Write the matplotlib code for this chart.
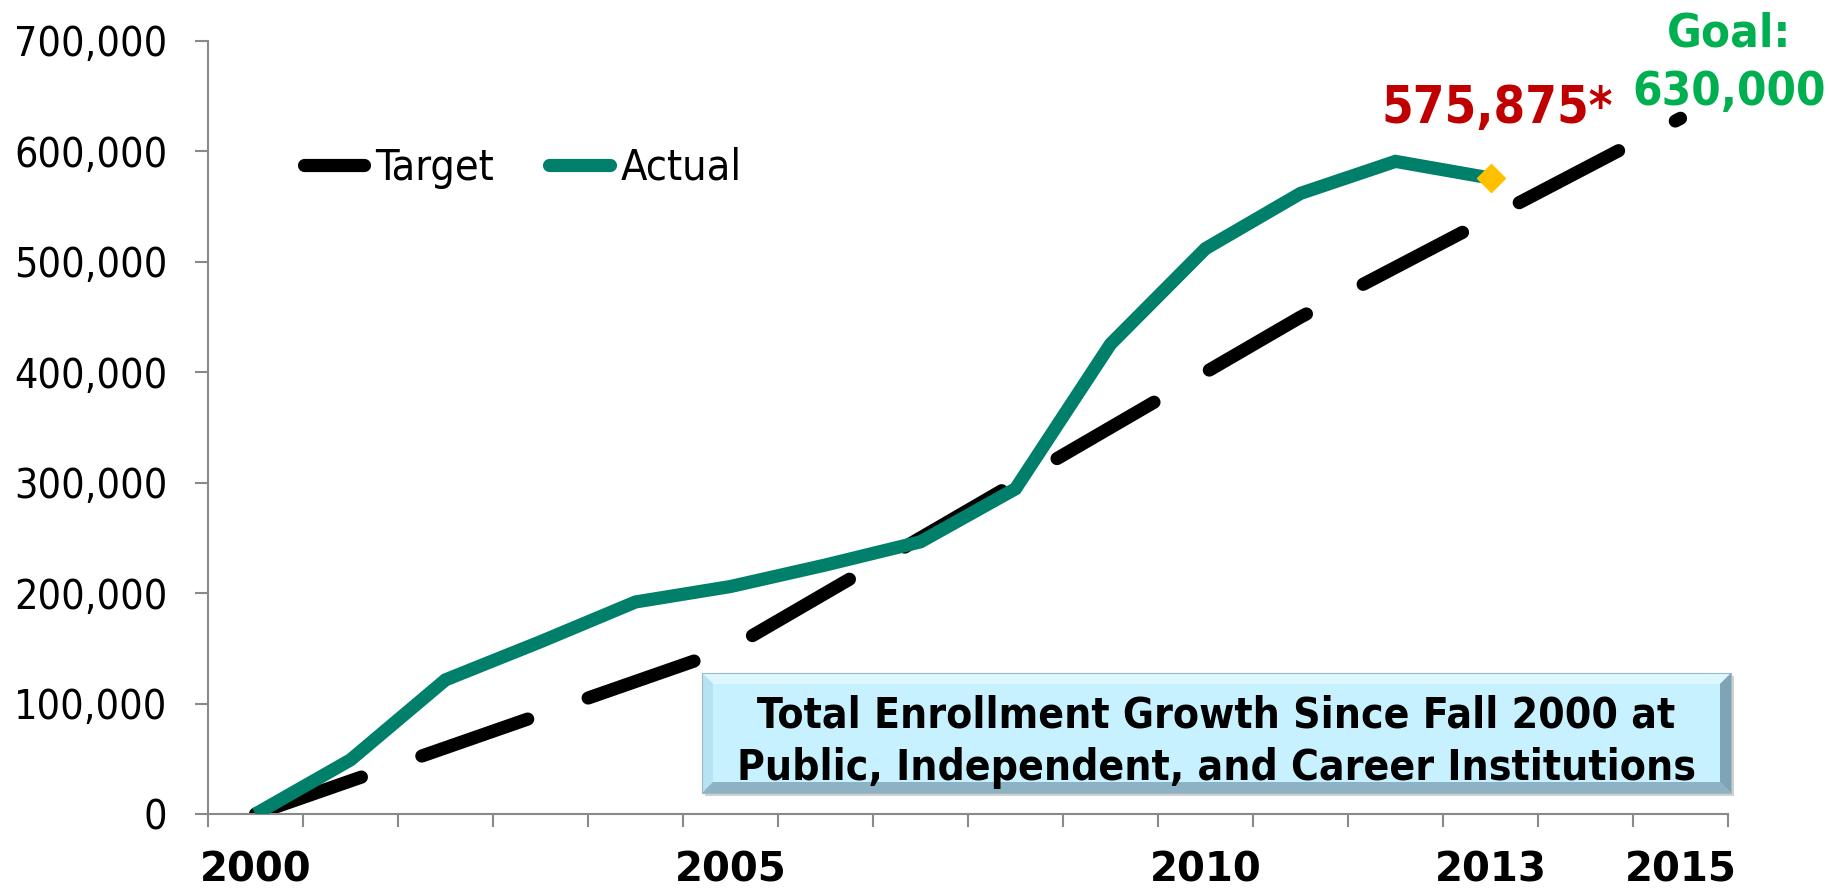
import matplotlib
matplotlib.use("Agg")
import matplotlib.pyplot as plt
from matplotlib import font_manager as fm
from matplotlib.lines import Line2D
from matplotlib.patches import Polygon, Rectangle
import numpy as np

# ---------------- data ----------------
years = list(range(2000, 2016))
target = [0, 30000, 60000, 90000, 120000, 150000, 200000, 250000, 300000,
          350000, 400000, 450000, 495000, 540000, 585000, 630000]
actual_years = list(range(2000, 2014))
actual = [0, 49000, 121500, 156000, 192000, 206000, 225500, 246500, 294500,
          425500, 512000, 562000, 591000, 575875]
xlabel_years = [2000, 2005, 2010, 2013, 2015]
yticks = [0, 100000, 200000, 300000, 400000, 500000, 600000, 700000]
series_names = ["Target", "Actual"]
latest_label = "575,875*"
goal_label_1 = "Goal:"
goal_label_2 = "630,000"
box_text = ("Total Enrollment Growth Since Fall 2000 at\n"
            "Public, Independent, and Career Institutions")

# ---------------- font choice ----------------
FAM = "DejaVu Sans"
STRETCH = "normal"
for f in fm.fontManager.ttflist:
    if f.name == "DejaVu Sans" and f.stretch == "condensed":
        STRETCH = "condensed"
        break
plt.rcParams["font.family"] = [FAM]
plt.rcParams["font.stretch"] = STRETCH

TEAL = "#00806A"
RED = "#C00000"
GREEN = "#00B050"
GOLD = "#FFC000"
AXC = "#898989"

W, H = 1830, 891
fig = plt.figure(figsize=(W / 100, H / 100), dpi=100)
ax_l, ax_r, ax_t, ax_b = 208, 1728, 41, 814
ax = fig.add_axes([ax_l / W, 1 - ax_b / H, (ax_r - ax_l) / W, (ax_b - ax_t) / H])

xt = [y - years[0] for y in years]
xa = [y - years[0] for y in actual_years]

LW = 9.5
ax.plot(xt, target, color="black", lw=LW, linestyle=(0, (8.5, 4.85)),
        dash_capstyle="round", zorder=2)
ax.plot(xa, actual, color=TEAL, lw=LW, solid_capstyle="butt",
        solid_joinstyle="miter", zorder=3)
ax.plot([xa[-1]], [actual[-1]], marker="D", ms=14, color=GOLD, mec=GOLD,
        mew=1, linestyle="none", zorder=4)

ax.set_xlim(-0.5, len(years) - 0.5)
ax.set_ylim(0, 700000)

# y axis
ax.set_yticks(yticks)
ax.set_yticklabels([f"{v:,}" for v in yticks])
ax.tick_params(axis="y", length=9.4, width=1.5, color=AXC, pad=20,
               labelsize=29.5, direction="out")

# x axis
ax.set_xticks([y - years[0] for y in xlabel_years])
ax.set_xticklabels([str(y) for y in xlabel_years], fontweight="bold",
                   fontstretch="normal")
ax.set_xticks(np.arange(-0.5, len(years), 1.0), minor=True)
ax.tick_params(axis="x", which="major", length=0, pad=26, labelsize=29)
ax.tick_params(axis="x", which="minor", length=9.4, width=1.5, color=AXC,
               direction="out")

for s in ["top", "right"]:
    ax.spines[s].set_visible(False)
for s in ["left", "bottom"]:
    ax.spines[s].set_color(AXC)
    ax.spines[s].set_linewidth(1.5)

# legend
handles = [Line2D([], [], color="black", lw=LW, solid_capstyle="round"),
           Line2D([], [], color=TEAL, lw=LW, solid_capstyle="round")]
fig.legend(handles, series_names, loc="center left",
           bbox_to_anchor=(304 / W, 1 - 168 / H), ncol=2, frameon=False,
           fontsize=31, handlelength=1.4, handletextpad=0.26,
           columnspacing=1.28, borderpad=0, borderaxespad=0)

# annotations
ax.annotate(latest_label, xy=(xa[-1], actual[-1]), xytext=(5, 39.6),
            textcoords="offset points", ha="center", va="baseline",
            color=RED, fontsize=36.5, fontweight="bold", zorder=5)
ax.annotate(goal_label_2, xy=(xt[-1], target[-1]), xytext=(35, 9.7),
            textcoords="offset points", ha="center", va="baseline",
            color=GREEN, fontsize=34, fontweight="bold",
            annotation_clip=False, zorder=5)
ax.annotate(goal_label_1, xy=(xt[-1], target[-1]), xytext=(35, 51.5),
            textcoords="offset points", ha="center", va="baseline",
            color=GREEN, fontsize=34, fontweight="bold",
            annotation_clip=False, zorder=5)

# bevelled text box (figure pixel layout)
bx0, bx1, by0, by1 = 702, 1731, 673, 793
bev = 11


def fp(x, y):
    return (x / W, 1 - y / H)


tr = fig.transFigure
# shadow
fig.patches.append(Rectangle(fp(bx0 + 3, by1 + 3), (bx1 - bx0) / W, (by1 - by0) / H,
                             transform=tr, facecolor="#9A9A9A", alpha=0.45,
                             edgecolor="none", zorder=1))
fig.patches.append(Polygon([fp(bx0, by0), fp(bx1, by0), fp(bx1 - bev, by0 + bev),
                            fp(bx0 + bev, by0 + bev)], closed=True, transform=tr,
                           facecolor="#DDF7FF", edgecolor="none", zorder=2))
fig.patches.append(Polygon([fp(bx0, by0), fp(bx0 + bev, by0 + bev), fp(bx0 + bev, by1 - bev),
                            fp(bx0, by1)], closed=True, transform=tr,
                           facecolor="#B5E3F4", edgecolor="none", zorder=2))
fig.patches.append(Polygon([fp(bx1, by0), fp(bx1, by1), fp(bx1 - bev, by1 - bev),
                            fp(bx1 - bev, by0 + bev)], closed=True, transform=tr,
                           facecolor="#7FA4B6", edgecolor="none", zorder=2))
fig.patches.append(Polygon([fp(bx0, by1), fp(bx0 + bev, by1 - bev), fp(bx1 - bev, by1 - bev),
                            fp(bx1, by1)], closed=True, transform=tr,
                           facecolor="#8DB2C4", edgecolor="none", zorder=2))
fig.patches.append(Rectangle(fp(bx0 + bev, by1 - bev), (bx1 - bx0 - 2 * bev) / W,
                             (by1 - by0 - 2 * bev) / H, transform=tr,
                             facecolor="#C8F1FF", edgecolor="none", zorder=2))
fig.patches.append(Rectangle(fp(bx0, by1), (bx1 - bx0) / W, (by1 - by0) / H,
                             transform=tr, facecolor="none", edgecolor="#9FB8C6",
                             lw=0.8, zorder=3))
fig.text((bx0 + bx1) / 2 / W, 1 - ((by0 + by1) / 2 + 9) / H, box_text,
         ha="center", va="center", fontsize=30.5, fontweight="bold",
         color="black", linespacing=1.32, zorder=4)

fig.savefig("out.png", dpi=100)
